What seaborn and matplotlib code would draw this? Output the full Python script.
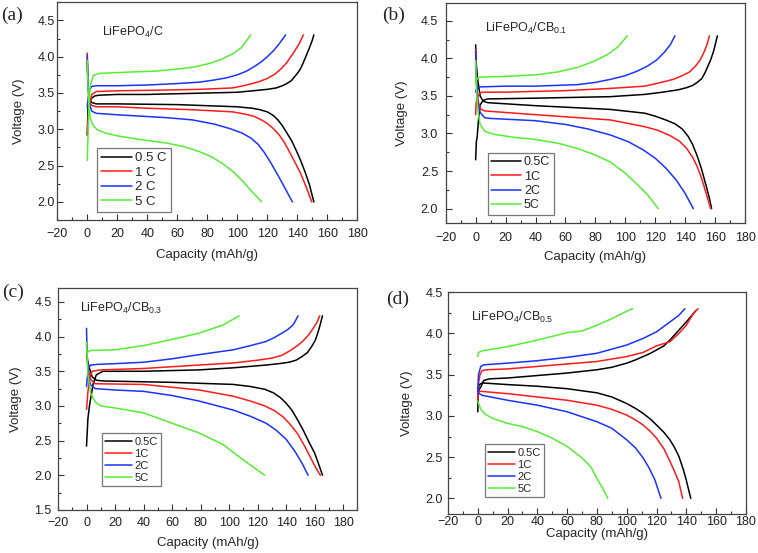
import numpy as np
import pandas as pd
import seaborn as sns
import matplotlib
matplotlib.use("Agg")
from matplotlib import pyplot as plt
from matplotlib.ticker import MultipleLocator, FormatStrFormatter

rates = ["0.5", "1", "2", "5"]
colors = ["#000000", "#ff1a1a", "#1a33ff", "#55ee33"]

# ---------------- (a) LiFePO4/C ----------------
a_charge = {
    "0.5": ([0, 0.5, 1.5, 3, 5, 8, 20, 40, 60, 80, 100, 110, 120, 126, 130, 133, 136, 138, 140, 142, 144, 146, 148, 150, 151],
            [2.92, 3.3, 3.38, 3.43, 3.46, 3.47, 3.48, 3.48, 3.49, 3.5, 3.51, 3.53, 3.55, 3.57, 3.6, 3.63, 3.67, 3.72, 3.77, 3.83, 3.92, 4.02, 4.12, 4.23, 4.3]),
    "1": ([0, 0.5, 1.5, 3, 6, 20, 50, 75, 97, 104, 110, 115, 120, 125, 129, 133, 137, 141, 144],
          [2.92, 3.1, 3.35, 3.48, 3.52, 3.53, 3.54, 3.55, 3.57, 3.6, 3.63, 3.66, 3.7, 3.76, 3.83, 3.92, 4.04, 4.17, 4.3]),
    "2": ([0, 0.5, 1.5, 3, 6, 20, 40, 60, 75, 85, 93, 100, 106, 111, 116, 120, 124, 128, 132.2],
          [3.3, 3.42, 3.54, 3.59, 3.6, 3.6, 3.61, 3.63, 3.65, 3.68, 3.71, 3.75, 3.8, 3.86, 3.93, 4.0, 4.08, 4.18, 4.3]),
    "5": ([0, 0.5, 1, 2, 4, 8, 30, 45, 60, 72, 82, 90, 97, 103, 108.9],
          [2.57, 2.9, 3.3, 3.6, 3.74, 3.77, 3.79, 3.8, 3.83, 3.86, 3.91, 3.97, 4.04, 4.13, 4.3]),
}
a_discharge = {
    "0.5": ([0, 0.5, 1.5, 3, 6, 20, 60, 100, 110, 115, 120, 124, 127, 130, 133, 136, 139, 142, 145, 148, 151],
            [3.95, 3.6, 3.42, 3.37, 3.35, 3.35, 3.34, 3.31, 3.29, 3.27, 3.24, 3.19, 3.13, 3.05, 2.95, 2.85, 2.72, 2.58, 2.42, 2.24, 2.0]),
    "1": ([0, 0.5, 1.5, 3, 6, 20, 40, 70, 97, 105, 111, 116, 120, 124, 128, 131, 134, 137, 142, 146, 149.6],
          [4.05, 3.6, 3.38, 3.33, 3.31, 3.31, 3.29, 3.27, 3.24, 3.21, 3.18, 3.13, 3.08, 3.01, 2.92, 2.83, 2.72, 2.6, 2.4, 2.2, 2.0]),
    "2": ([0, 0.5, 1.5, 3, 6, 20, 53, 70, 85, 95, 103, 109, 114, 118, 122, 127, 132, 136.7],
          [4.02, 3.6, 3.35, 3.25, 3.22, 3.2, 3.16, 3.13, 3.07, 3.01, 2.95, 2.88, 2.79, 2.68, 2.55, 2.37, 2.18, 2.0]),
    "5": ([0, 0.5, 1, 2, 4, 7, 12, 20, 35, 53, 65, 75, 83, 90, 97, 103, 109, 116.2],
          [3.95, 3.6, 3.35, 3.15, 3.05, 2.99, 2.95, 2.91, 2.86, 2.81, 2.76, 2.69, 2.62, 2.53, 2.42, 2.3, 2.16, 2.0]),
}

# ---------------- (b) LiFePO4/CB0.1 ----------------
b_charge = {
    "0.5": ([0, 0.5, 1, 2, 3, 5, 8, 40, 90, 113, 125, 135, 141, 145, 148, 151, 153, 155, 157, 159, 161.5],
            [2.65, 2.9, 2.95, 3.2, 3.38, 3.44, 3.46, 3.47, 3.49, 3.52, 3.55, 3.58, 3.61, 3.64, 3.68, 3.73, 3.8, 3.89, 3.98, 4.1, 4.3]),
    "1": ([0, 0.3, 1, 2, 4, 20, 60, 90, 113, 124, 132, 138, 143, 147, 150, 152.5, 154.5, 156.1],
          [3.25, 3.4, 3.47, 3.52, 3.55, 3.55, 3.57, 3.6, 3.63, 3.68, 3.72, 3.77, 3.82, 3.9, 3.98, 4.08, 4.18, 4.3]),
    "2": ([0, 0.3, 1, 3, 20, 40, 68, 80, 90, 100, 108, 115, 121, 126, 130, 133.1],
          [3.55, 3.58, 3.6, 3.62, 3.63, 3.63, 3.65, 3.68, 3.72, 3.77, 3.83, 3.9, 3.98, 4.08, 4.18, 4.3]),
    "5": ([0, 0.5, 1.5, 3, 20, 40, 55, 68, 79, 88, 95, 101.3],
          [3.65, 3.71, 3.74, 3.75, 3.76, 3.78, 3.82, 3.88, 3.96, 4.05, 4.15, 4.3]),
}
b_discharge = {
    "0.5": ([0, 0.5, 1.5, 3, 5, 8, 40, 90, 113, 120, 127, 133, 138, 142, 145, 148, 151, 154, 156, 157.6],
            [4.18, 3.9, 3.7, 3.5, 3.43, 3.41, 3.37, 3.32, 3.27, 3.23, 3.18, 3.13, 3.06, 2.96, 2.85, 2.7, 2.52, 2.3, 2.15, 2.0]),
    "1": ([0, 0.5, 1.5, 3, 6, 40, 90, 113, 122, 130, 136, 141, 145, 148, 151, 154, 157],
          [4.12, 3.7, 3.45, 3.33, 3.3, 3.25, 3.18, 3.09, 3.04, 2.97, 2.9, 2.8, 2.68, 2.56, 2.4, 2.2, 2.0]),
    "2": ([0, 0.5, 1.5, 3, 6, 10, 40, 60, 75, 90, 102, 112, 120, 127, 134, 140, 145.4],
          [4.1, 3.7, 3.4, 3.28, 3.21, 3.2, 3.17, 3.12, 3.06, 2.98, 2.89, 2.78, 2.67, 2.54, 2.38, 2.2, 2.0]),
    "5": ([0, 0.5, 1.5, 3, 6, 12, 25, 40, 55, 68, 79, 90, 100, 108, 115, 121.9],
          [3.97, 3.6, 3.3, 3.12, 3.03, 2.99, 2.95, 2.92, 2.87, 2.8, 2.72, 2.62, 2.47, 2.32, 2.18, 2.0]),
}

# ---------------- (c) LiFePO4/CB0.3 ----------------
c_charge = {
    "0.5": ([0, 1, 2.2, 4.6, 6.9, 11.6, 40, 79, 103, 126, 135, 142, 147, 151, 155, 158, 160.5, 162.5, 164, 165.5],
            [2.42, 2.82, 3.02, 3.31, 3.45, 3.5, 3.5, 3.52, 3.55, 3.59, 3.61, 3.63, 3.66, 3.71, 3.77, 3.86, 3.95, 4.07, 4.18, 4.3]),
    "1": ([0, 1, 2, 4, 10, 40, 79, 103, 120, 130, 137, 143, 148, 152, 156, 159, 161.5, 163.6],
          [2.95, 3.2, 3.4, 3.5, 3.52, 3.54, 3.59, 3.62, 3.66, 3.69, 3.73, 3.8, 3.87, 3.94, 4.03, 4.12, 4.2, 4.3]),
    "2": ([0, 0.5, 1.5, 3, 8, 20, 40, 60, 79, 103, 115, 126, 132, 137, 141, 145, 148.4],
          [3.28, 3.4, 3.55, 3.59, 3.6, 3.61, 3.63, 3.68, 3.74, 3.81, 3.87, 3.93, 3.99, 4.05, 4.1, 4.17, 4.3]),
    "5": ([0, 1, 3, 20, 40, 60, 79, 96, 107],
          [3.75, 3.78, 3.8, 3.81, 3.87, 3.96, 4.05, 4.17, 4.3]),
}
c_discharge = {
    "0.5": ([0, 2, 4, 7, 12, 60, 103, 115, 125, 131, 136, 140, 144, 148, 152, 156, 160, 163, 165.5],
            [3.72, 3.55, 3.42, 3.37, 3.36, 3.34, 3.31, 3.28, 3.24, 3.19, 3.12, 3.04, 2.94, 2.8, 2.65, 2.48, 2.32, 2.15, 2.0]),
    "1": ([0, 1, 3, 6, 40, 79, 103, 115, 125, 132, 138, 143, 148, 153, 158, 161, 164],
          [3.9, 3.55, 3.38, 3.32, 3.31, 3.23, 3.14, 3.07, 3.0, 2.93, 2.84, 2.73, 2.6, 2.42, 2.22, 2.1, 2.0]),
    "2": ([0, 0.5, 1.5, 3, 6, 20, 40, 60, 79, 103, 115, 126, 133, 140, 146, 151, 155.4],
          [4.12, 3.7, 3.4, 3.3, 3.25, 3.23, 3.21, 3.15, 3.07, 2.94, 2.85, 2.75, 2.65, 2.52, 2.35, 2.18, 2.0]),
    "5": ([0, 1, 3, 6, 10, 20, 40, 60, 79, 96, 110, 125],
          [3.92, 3.45, 3.18, 3.06, 3.0, 2.97, 2.9, 2.75, 2.61, 2.44, 2.22, 2.0]),
}

# ---------------- (d) LiFePO4/CB0.5 ----------------
d_charge = {
    "0.5": ([0, 0.3, 2, 4, 8, 20, 40, 60, 80, 90, 100, 106, 111, 116, 120, 125, 129, 135, 140, 146.5],
            [3.05, 3.3, 3.35, 3.43, 3.45, 3.46, 3.49, 3.52, 3.56, 3.59, 3.64, 3.68, 3.72, 3.76, 3.8, 3.85, 3.92, 4.04, 4.14, 4.28]),
    "1": ([0, 0.5, 1.5, 3, 6, 20, 40, 60, 80, 100, 111, 120, 129, 135, 140, 145, 148],
          [3.2, 3.4, 3.5, 3.55, 3.56, 3.57, 3.6, 3.63, 3.66, 3.72, 3.77, 3.85, 3.9, 4.0, 4.1, 4.25, 4.3]),
    "2": ([0, 0.5, 2, 4, 20, 40, 60, 80, 100, 111, 120, 129, 135, 139],
          [3.3, 3.5, 3.6, 3.62, 3.64, 3.67, 3.71, 3.76, 3.86, 3.94, 4.02, 4.14, 4.22, 4.3]),
    "5": ([0, 0.5, 3, 20, 40, 60, 70, 80, 90, 100, 104],
          [3.72, 3.77, 3.79, 3.84, 3.92, 4.01, 4.03, 4.1, 4.18, 4.27, 4.3]),
}
d_discharge = {
    "0.5": ([0, 1, 3, 20, 40, 60, 80, 90, 100, 106, 111, 116, 120, 125, 129, 132, 135, 138, 140, 143],
            [3.3, 3.38, 3.4, 3.38, 3.36, 3.33, 3.28, 3.23, 3.15, 3.09, 3.03, 2.96, 2.89, 2.8, 2.71, 2.62, 2.51, 2.35, 2.22, 2.0]),
    "1": ([0, 1, 20, 40, 60, 80, 90, 100, 106, 111, 116, 120, 125, 129, 132, 135, 137.5],
          [3.35, 3.3, 3.27, 3.23, 3.19, 3.13, 3.08, 3.01, 2.95, 2.89, 2.81, 2.73, 2.6, 2.45, 2.33, 2.2, 2.0]),
    "2": ([0, 1, 3, 20, 40, 60, 80, 90, 100, 106, 111, 115, 119, 123],
          [3.35, 3.27, 3.25, 3.19, 3.13, 3.05, 2.93, 2.85, 2.71, 2.61, 2.49, 2.37, 2.22, 2.0]),
    "5": ([0, 2, 5, 10, 20, 30, 40, 50, 60, 70, 76, 80, 84, 87.3],
          [3.18, 3.08, 3.02, 2.97, 2.91, 2.87, 2.81, 2.73, 2.63, 2.49, 2.38, 2.24, 2.12, 2.0]),
}

sns.set_style("ticks")
plt.rcParams["font.family"] = ["Liberation Sans", "DejaVu Sans"]
plt.rcParams["mathtext.fontset"] = "custom"
plt.rcParams["mathtext.rm"] = "Liberation Sans"

fig = plt.figure(figsize=(7.58, 5.53), dpi=100)

# tag, axes rect, ylim, xlim, charge, discharge, sample text, text pos, legend pos,
# label suffix, legend font, tag pos, (x tick pad, y tick pad, xlabel pad)
panels = [
    ("(a)", [0.0755, 0.602, 0.396, 0.394], (1.75, 4.75), (-20, 180), a_charge, a_discharge,
     r"LiFePO$_\mathregular{4}$/C", (0.15, 0.86), (0.132, 0.037), " C", 9.5, (0.016, 0.972), (5.4, 1.6, 7.0)),
    ("(b)", [0.588, 0.597, 0.395, 0.398], (1.81, 4.74), (-20, 180), b_charge, b_discharge,
     r"LiFePO$_\mathregular{4}$/CB$_\mathregular{0.1}$", (0.13, 0.885), (0.14, 0.036), "C", 9, (0.519, 0.972), (6.8, 5.5, 5.0)),
    ("(c)", [0.0765, 0.078, 0.395, 0.401], (1.5, 4.7), (-20, 190), c_charge, c_discharge,
     r"LiFePO$_\mathregular{4}$/CB$_\mathregular{0.3}$", (0.074, 0.91), (0.147, 0.108), "C", 8, (0.017, 0.472), (5.0, 4.5, 6.0)),
    ("(d)", [0.591, 0.0705, 0.393, 0.401], (1.81, 4.5), (-20, 180), d_charge, d_discharge,
     r"LiFePO$_\mathregular{4}$/CB$_\mathregular{0.5}$", (0.077, 0.887), (0.124, 0.077), "C", 8, (0.525, 0.458), (1.5, 3.6, 0.0)),
]

for tag, rect, ylim, xlim, chg, dis, sample, txt_pos, leg_pos, suffix, leg_fs, tag_pos, pads in panels:
    ax = fig.add_axes(rect)
    for rate, col in zip(rates, colors):
        cx, cy = chg[rate]
        dx, dy = dis[rate]
        sns.lineplot(x=dx, y=dy, color=col, lw=1.1, sort=False, estimator=None, ax=ax)
        sns.lineplot(x=cx, y=cy, color=col, lw=1.1, sort=False, estimator=None, ax=ax,
                     label=rate + suffix)
    ax.set_xlim(*xlim)
    ax.set_ylim(*ylim)
    ax.xaxis.set_major_locator(MultipleLocator(20))
    ax.xaxis.set_minor_locator(MultipleLocator(10))
    ax.yaxis.set_major_locator(MultipleLocator(0.5))
    ax.yaxis.set_minor_locator(MultipleLocator(0.25))
    ax.yaxis.set_major_formatter(FormatStrFormatter("%.1f"))
    ax.tick_params(which="major", direction="in", length=4, width=0.8, labelsize=9,
                   colors="#333333", labelcolor="#222222")
    ax.tick_params(axis="x", which="major", pad=pads[0])
    ax.tick_params(axis="y", which="major", pad=pads[1])
    ax.tick_params(which="minor", direction="in", length=2.2, width=0.8, colors="#333333")
    for sp in ax.spines.values():
        sp.set_color("#444444")
        sp.set_linewidth(0.9)
    ax.set_xlabel("Capacity (mAh/g)", fontsize=9.5, labelpad=pads[2])
    ax.set_ylabel("Voltage (V)", fontsize=9.5, labelpad=9)
    ax.text(txt_pos[0], txt_pos[1], sample, transform=ax.transAxes, fontsize=9, va="center", ha="left")
    leg = ax.legend(loc="lower left", bbox_to_anchor=leg_pos, fontsize=leg_fs, frameon=True,
                    fancybox=False, framealpha=1, edgecolor="#777777", borderpad=0.3,
                    labelspacing=0.18, handlelength=2.4, handletextpad=0.2, borderaxespad=0)
    leg.get_frame().set_linewidth(0.9)
    fig.text(tag_pos[0], tag_pos[1], tag, fontsize=14, family=["Liberation Serif", "DejaVu Serif"],
             ha="center", va="center")

fig.savefig("out.png", dpi=100)
